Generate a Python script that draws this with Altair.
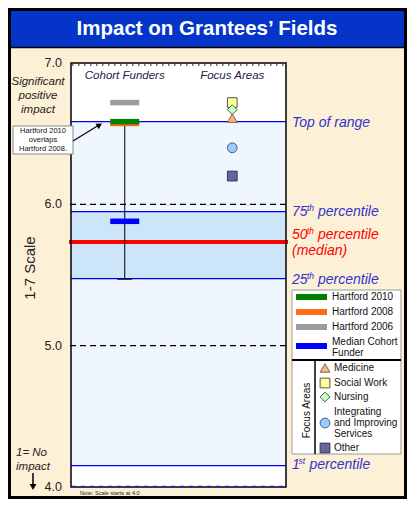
import re
import altair as alt
import pandas as pd

# ---------------- data ----------------
columns = ["Cohort Funders", "Focus Areas"]
column_x = [1, 3]

cohort_series = ["Hartford 2010", "Hartford 2008", "Hartford 2006", "Median Cohort Funder"]
cohort_scores = [6.585, 6.572, 6.72, 5.88]
cohort_colors = ["#008000", "#ff6a13", "#9c9c9c", "#0000ff"]
cohort_range = [5.47, 6.585]

focus_areas = ["Medicine", "Social Work", "Nursing", "Integrating and Improving Services", "Other"]
focus_scores = [6.61, 6.72, 6.67, 6.40, 6.20]
focus_shapes = ["triangle-up", "square", "diamond", "circle", "square"]
focus_fills = ["#f7b68a", "#ffff99", "#ccffcc", "#99ccff", "#66669a"]
focus_strokes = ["#8a6040", "#555555", "#3d6b3d", "#3f5f8f", "#333355"]

range_names = ["Top of range", "75th percentile", "50th percentile (median)", "25th percentile", "1st percentile"]
range_scores = [6.585, 5.948, 5.733, 5.474, 4.151]

grid_levels = [5.0, 6.0]
y_ticks = [4.0, 5.0, 6.0, 7.0]
y_title = "1-7 Scale"

# ---------------- layout ----------------
W, H = 215, 424
FONT = "Liberation Sans"
BLUE_TXT = "#3333cc"
one = pd.DataFrame({"k": [0]})

yscale = alt.Scale(domain=[4, 7], nice=False, zero=False)
xscale = alt.Scale(domain=[0, 4], nice=False, zero=False)

def Y(field, **kw):
    return alt.Y(field, type="quantitative", scale=yscale, axis=None, **kw)

layers = []

# plot background
layers.append(alt.Chart(one).mark_rect(fill="white").encode(
    x=alt.value(0), x2=alt.value(W), y=alt.value(0), y2=alt.value(H)))

# light range region (1st percentile .. top of range)
region = pd.DataFrame({"lo": [range_scores[4]], "hi": [range_scores[0]]})
layers.append(alt.Chart(region).mark_rect(fill="#f0f6fd").encode(
    x=alt.value(0), x2=alt.value(W), y=Y("lo"), y2="hi:Q"))

# interquartile band
band = pd.DataFrame({"lo": [range_scores[3]], "hi": [range_scores[1]]})
layers.append(alt.Chart(band).mark_rect(fill="#cde5f9").encode(
    x=alt.value(0), x2=alt.value(W), y=Y("lo"), y2="hi:Q"))

# thin blue range lines
blue_df = pd.DataFrame({"score": [s for n, s in zip(range_names, range_scores) if "median" not in n]})
layers.append(alt.Chart(blue_df).mark_rule(color="#0000ee", strokeWidth=1.2).encode(
    x=alt.value(0), x2=alt.value(W), y=Y("score")))

# dashed scale lines
grid_df = pd.DataFrame({"score": grid_levels})
layers.append(alt.Chart(grid_df).mark_rule(color="black", strokeWidth=1.2, strokeDash=[6, 4]).encode(
    x=alt.value(-1), x2=alt.value(W), y=Y("score")))

# red median line
med_df = pd.DataFrame({"score": [range_scores[2]]})
layers.append(alt.Chart(med_df).mark_rule(color="#ff0000", strokeWidth=4).encode(
    x=alt.value(-2), x2=alt.value(W + 2), y=Y("score")))

# cohort range bar
rng_df = pd.DataFrame({"x": [column_x[0]], "lo": [cohort_range[0]], "hi": [cohort_range[1]]})
layers.append(alt.Chart(rng_df).mark_rule(color="black", strokeWidth=1).encode(
    x=alt.X("x:Q", scale=xscale, axis=None), y=Y("lo"), y2="hi:Q"))
layers.append(alt.Chart(rng_df).mark_tick(color="black", orient="horizontal", size=15, thickness=1.5).encode(
    x=alt.X("x:Q", scale=xscale, axis=None), y=Y("lo")))

# cohort bars (2008 drawn beneath 2010)
cohort_df = pd.DataFrame({"series": cohort_series, "score": cohort_scores,
                          "color": cohort_colors, "x": column_x[0]})
cohort_df = cohort_df.iloc[[1, 0, 2, 3]]
layers.append(alt.Chart(cohort_df).mark_tick(orient="horizontal", size=29, thickness=5.5, opacity=1).encode(
    x=alt.X("x:Q", scale=xscale, axis=None), y=Y("score"),
    color=alt.Color("color:N", scale=None)))

# focus-area markers
focus_df = pd.DataFrame({"area": focus_areas, "score": focus_scores, "shape": focus_shapes,
                         "fill": focus_fills, "stroke": focus_strokes, "x": column_x[1]})
focus_df = focus_df.iloc[[1, 2, 0, 3, 4]]
layers.append(alt.Chart(focus_df).mark_point(filled=True, size=95, strokeWidth=1, opacity=1).encode(
    x=alt.X("x:Q", scale=xscale, axis=None), y=Y("score"),
    shape=alt.Shape("shape:N", scale=None),
    fill=alt.Fill("fill:N", scale=None),
    stroke=alt.Stroke("stroke:N", scale=None)))

# column headers
col_df = pd.DataFrame({"name": columns, "x": column_x})
layers.append(alt.Chart(col_df).mark_text(font=FONT, fontSize=11.5, fontStyle="italic", color="#222244").encode(
    x=alt.X("x:Q", scale=xscale, axis=None), y=alt.value(13), text="name:N"))

# plot frame
layers.append(alt.Chart(one).mark_rect(filled=False, stroke="black", strokeWidth=1.5).encode(
    x=alt.value(0), x2=alt.value(W), y=alt.value(0), y2=alt.value(H)))
layers.append(alt.Chart(one).mark_rule(color="#444444", strokeWidth=1.5, strokeDash=[1.5, 4.5]).encode(
    x=alt.value(1), x2=alt.value(W - 1), y=alt.value(2)))
layers.append(alt.Chart(one).mark_rule(color="#2222dd", strokeWidth=1.5, strokeDash=[4, 5]).encode(
    x=alt.value(1), x2=alt.value(W - 1), y=alt.value(H - 0.5)))

# y-axis tick labels through the y scale
tick_df = pd.DataFrame({"score": y_ticks})
layers.append(alt.Chart(tick_df).mark_text(font=FONT, fontSize=12.5, align="right", baseline="middle",
                                           color="#222222").encode(
    x=alt.value(-9), y=Y("score"), text=alt.Text("score:Q", format=".1f")))
layers.append(alt.Chart(one).mark_text(font=FONT, fontSize=15, angle=270, align="center",
                                       baseline="middle", color="#222222").encode(
    x=alt.value(-41), y=alt.value(205), text=alt.value(y_title)))

# right-hand range labels
def txt(df, text, x, dy=0, size=14, color=BLUE_TXT):
    return alt.Chart(df).mark_text(font=FONT, fontSize=size, fontStyle="italic", color=color,
                                   align="left", baseline="middle", dy=dy).encode(
        x=alt.value(x), y=Y("score"), text=alt.value(text))

label_dy = {0: 1, 1: 0, 2: -7, 3: 1, 4: -1}
for i, (name, score) in enumerate(zip(range_names, range_scores)):
    df = pd.DataFrame({"score": [score]})
    color = "#ff0000" if "median" in name else BLUE_TXT
    dy = label_dy[i]
    m = re.match(r"^(\d+)(st|nd|rd|th) (.*)$", name)
    if not m:
        layers.append(txt(df, name, 221, dy, color=color))
        continue
    num, sup, rest = m.groups()
    sup_x = 221 + (15 if len(num) == 2 else 6.5)
    rest_x = sup_x + 11
    layers.append(txt(df, num, 221, dy, color=color))
    layers.append(txt(df, sup, sup_x, dy - 4, size=8.5, color=color))
    if "(" in rest:
        first, second = rest.split(" (")
        layers.append(txt(df, first, rest_x, dy, color=color))
        layers.append(txt(df, "(" + second, 221, dy + 16, color=color))
    else:
        layers.append(txt(df, rest, rest_x, dy, color=color))

# left annotations (y is the first line of multi-line texts)
def ptext(text, x, y, size=11.5, style="italic", align="center", color="#222222", weight="normal", lh=14):
    return alt.Chart(one).mark_text(font=FONT, fontSize=size, fontStyle=style, align=align,
                                    baseline="middle", color=color, fontWeight=weight, lineHeight=lh).encode(
        x=alt.value(x), y=alt.value(y), text=alt.value(text))

layers.append(ptext(["Significant", "positive", "impact"], -33, 19, lh=14))
layers.append(ptext(["1= No", "impact"], -55, 390, align="left", lh=14))

# overlap note box + arrow
layers.append(alt.Chart(one).mark_rect(fill="white", stroke="#888888", strokeWidth=1).encode(
    x=alt.value(-58), x2=alt.value(2), y=alt.value(63), y2=alt.value(91)))
layers.append(ptext(["Hartford 2010", "overlaps", "Hartford 2008."], -28, 67.5, size=7.5, style="normal",
                    color="#111111", lh=9))
layers.append(alt.Chart(one).mark_rule(color="black", strokeWidth=1.2).encode(
    x=alt.value(2), y=alt.value(78), x2=alt.value(28), y2=alt.value(62)))
layers.append(alt.Chart(one).mark_point(shape="triangle-up", filled=True, color="black", size=40,
                                        angle=58, opacity=1).encode(
    x=alt.value(28.5), y=alt.value(62)))

# "no impact" arrow
layers.append(alt.Chart(one).mark_rule(color="black", strokeWidth=1.5).encode(
    x=alt.value(-38), y=alt.value(410), y2=alt.value(422)))
layers.append(alt.Chart(one).mark_point(shape="triangle-down", filled=True, color="black", size=45,
                                        opacity=1).encode(
    x=alt.value(-38), y=alt.value(424)))

# footnote
layers.append(ptext("Note: Scale starts at 4.0", 9, 429.5, size=5.6, style="normal", align="left",
                    color="#222222"))

# ---------------- legend panels ----------------
LX0, LX1 = 221, 330
layers.append(alt.Chart(one).mark_rect(fill="white", stroke="#9a9a9a", strokeWidth=1).encode(
    x=alt.value(LX0), x2=alt.value(LX1), y=alt.value(227), y2=alt.value(391)))
layers.append(alt.Chart(one).mark_rule(color="black", strokeWidth=2).encode(
    x=alt.value(LX0), x2=alt.value(LX1), y=alt.value(297)))
layers.append(alt.Chart(one).mark_rule(color="black", strokeWidth=1.5).encode(
    x=alt.value(244), y=alt.value(297), y2=alt.value(391)))
layers.append(alt.Chart(one).mark_text(font=FONT, fontSize=10, angle=270, align="center",
                                       baseline="middle", color="#111111").encode(
    x=alt.value(235.5), y=alt.value(347.5), text=alt.value("Focus Areas")))

leg1 = pd.DataFrame({"label": cohort_series, "color": cohort_colors})
leg1["ly"] = [234, 249, 264, 283]
leg1["ty"] = [234, 249, 264, 279]
leg1["text"] = leg1["label"].str.replace(" Funder", "\nFunder")
layers.append(alt.Chart(leg1).mark_rule(strokeWidth=6).encode(
    x=alt.value(225), x2=alt.value(256), y=alt.Y("ly:Q", scale=None, axis=None),
    color=alt.Color("color:N", scale=None)))
layers.append(alt.Chart(leg1).mark_text(font=FONT, fontSize=10, align="left", baseline="middle",
                                        lineBreak="\n", lineHeight=11, color="#111111").encode(
    x=alt.value(261), y=alt.Y("ty:Q", scale=None, axis=None), text="text:N"))

leg2 = pd.DataFrame({"label": focus_areas, "shape": focus_shapes, "fill": focus_fills, "stroke": focus_strokes})
leg2["ly"] = [305, 320, 334, 360, 385]
leg2["ty"] = [305, 320, 334, 349, 385]
leg2["text"] = leg2["label"].str.replace("Integrating and Improving Services",
                                         "Integrating\nand Improving\nServices")
layers.append(alt.Chart(leg2).mark_point(filled=True, size=95, strokeWidth=1, opacity=1).encode(
    x=alt.value(254), y=alt.Y("ly:Q", scale=None, axis=None),
    shape=alt.Shape("shape:N", scale=None),
    fill=alt.Fill("fill:N", scale=None),
    stroke=alt.Stroke("stroke:N", scale=None)))
layers.append(alt.Chart(leg2).mark_text(font=FONT, fontSize=10, align="left", baseline="middle",
                                        lineBreak="\n", lineHeight=11, color="#111111").encode(
    x=alt.value(263), y=alt.Y("ty:Q", scale=None, axis=None), text="text:N"))

# ---------------- title banner and outer frame ----------------
layers.append(alt.Chart(one).mark_rect(fill="#0535c8").encode(
    x=alt.value(-63), x2=alt.value(336), y=alt.value(-55), y2=alt.value(-15.5)))
layers.append(alt.Chart(one).mark_rule(color="black", strokeWidth=1.5).encode(
    x=alt.value(-63), x2=alt.value(336), y=alt.value(-15.5)))
layers.append(alt.Chart(one).mark_text(font=FONT, fontSize=20.5, fontWeight="bold", color="white",
                                       align="center", baseline="middle").encode(
    x=alt.value(136), y=alt.value(-34), text=alt.value("Impact on Grantees\u2019 Fields")))
layers.append(alt.Chart(one).mark_rect(filled=False, stroke="black", strokeWidth=3).encode(
    x=alt.value(-61.5), x2=alt.value(334.5), y=alt.value(-53.5), y2=alt.value(434.5)))

chart = alt.layer(*layers).properties(
    width=W, height=H,
    padding={"left": 63, "top": 55, "right": 121, "bottom": 12},
    autosize=alt.AutoSizeParams(type="none"),
).configure(background="#fcf0d6").configure_view(strokeWidth=0)

chart.save("out.html", embed_options={"renderer": "svg", "actions": False})
